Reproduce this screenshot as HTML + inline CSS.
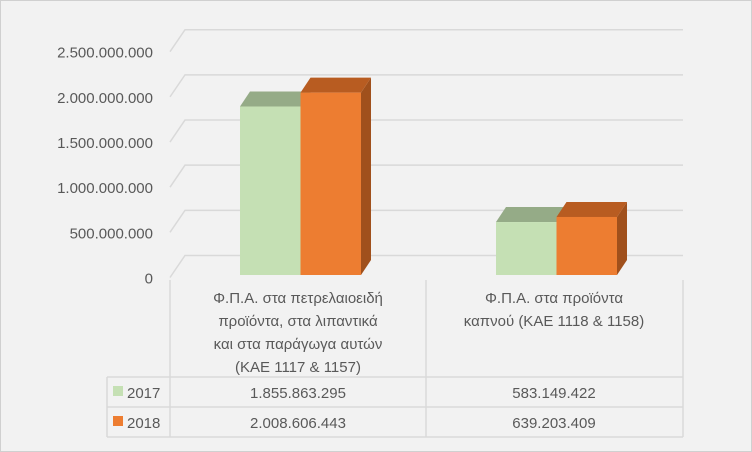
<!DOCTYPE html>
<html><head><meta charset="utf-8"><style>
body{margin:0;background:#f2f2f2}
svg{display:block;font-family:"Liberation Sans","DejaVu Sans",sans-serif}
</style></head><body>
<svg id="c" width="752" height="452" viewBox="0 0 752 452">
<rect x="0.5" y="0.5" width="751" height="451" fill="#f2f2f2" stroke="#d0d0d0"/>
<g id="grid"></g>
<g id="yax"></g>
<g id="bars"></g>
<g id="tbl"></g>
</svg>
<script>
const categories=[["Φ.Π.Α. στα πετρελαιοειδή","προϊόντα, στα λιπαντικά","και στα παράγωγα αυτών","(ΚΑΕ 1117 & 1157)"],["Φ.Π.Α. στα προϊόντα","καπνού (ΚΑΕ 1118 & 1158)"]];
const seriesNames=["2017","2018"];
const values2017=[1855863295,583149422];
const values2018=[2008606443,639203409];
const valueLabels2017=["1.855.863.295","583.149.422"];
const valueLabels2018=["2.008.606.443","639.203.409"];
const ticks=[0,500000000,1000000000,1500000000,2000000000,2500000000];
const tickLabels=["0","500.000.000","1.000.000.000","1.500.000.000","2.000.000.000","2.500.000.000"];

const NS="http://www.w3.org/2000/svg";
function mk(p,t,a,txt){const e=document.createElementNS(NS,t);for(const k in a)e.setAttribute(k,a[k]);if(txt!==undefined)e.textContent=txt;p.appendChild(e);return e;}
const yFront=v=>277.5-v/2500000000*225.8;
const yBar=v=>275-v/1000000000*90.8;
const grid=document.getElementById('grid'),yax=document.getElementById('yax'),bars=document.getElementById('bars'),tbl=document.getElementById('tbl');
ticks.forEach((t,i)=>{
 const y=yFront(t);
 const l=mk(grid,'polyline',{points:`170,${y} 185,${y-22} 683,${y-22}`,fill:'none',stroke:'#d9d9d9','stroke-width':1.5});
 
 
 const tx=mk(yax,'text',{x:153,y:y+6,'text-anchor':'end','font-size':15,fill:'#595959'},tickLabels[i]);
 
 
});
const groupX=[240,496],bw=60.5,dx=10,dy=15;
const series=[{v:values2017,f:'#c5e0b4',t:'#95ab87',s:'#8ea27f'},{v:values2018,f:'#ed7d31',t:'#b85c21',s:'#a0501c'}];
categories.forEach((c,ci)=>{
 series.forEach((s,si)=>{
  const x=groupX[ci]+si*bw,y=yBar(s.v[ci]),b=275;
  const g=mk(bars,'g',{});
  
  
  mk(g,'polygon',{points:`${x+bw},${y} ${x+bw+dx},${y-dy} ${x+bw+dx},${b-dy} ${x+bw},${b}`,fill:s.s});
  mk(g,'polygon',{points:`${x},${y} ${x+dx},${y-dy} ${x+bw+dx},${y-dy} ${x+bw},${y}`,fill:s.t});
  mk(g,'rect',{x:x,y:y,width:bw,height:b-y,fill:s.f});
 });
});
// table
const L='#d9d9d9';
[[170,280,170,437],[426,280,426,437],[683,280,683,437],[107,377,107,437],[107,377,683,377],[107,407,683,407],[107,437,683,437]].forEach(p=>{
 const l=mk(tbl,'line',{x1:p[0],y1:p[1],x2:p[2],y2:p[3],stroke:L,'stroke-width':1.5});
 
 
});
const colC=[298,554];
categories.forEach((c,ci)=>{
 c.forEach((ln,li)=>{
  const t=mk(tbl,'text',{x:colC[ci],y:303+li*23,'text-anchor':'middle','font-size':15,fill:'#595959'},ln);
  
  
 });
});
const rowY=[398,428],labels=[valueLabels2017,valueLabels2018];
seriesNames.forEach((n,si)=>{
 const k=mk(tbl,'rect',{x:113,y:rowY[si]-12,width:10,height:10,fill:series[si].f});
 
 
 const t=mk(tbl,'text',{x:127,y:rowY[si],'font-size':15,fill:'#595959'},n);
 
 
 labels[si].forEach((v,ci)=>{
  const tv=mk(tbl,'text',{x:colC[ci],y:rowY[si],'text-anchor':'middle','font-size':15,fill:'#595959'},v);
  
  
 });
});
</script>
</body></html>
